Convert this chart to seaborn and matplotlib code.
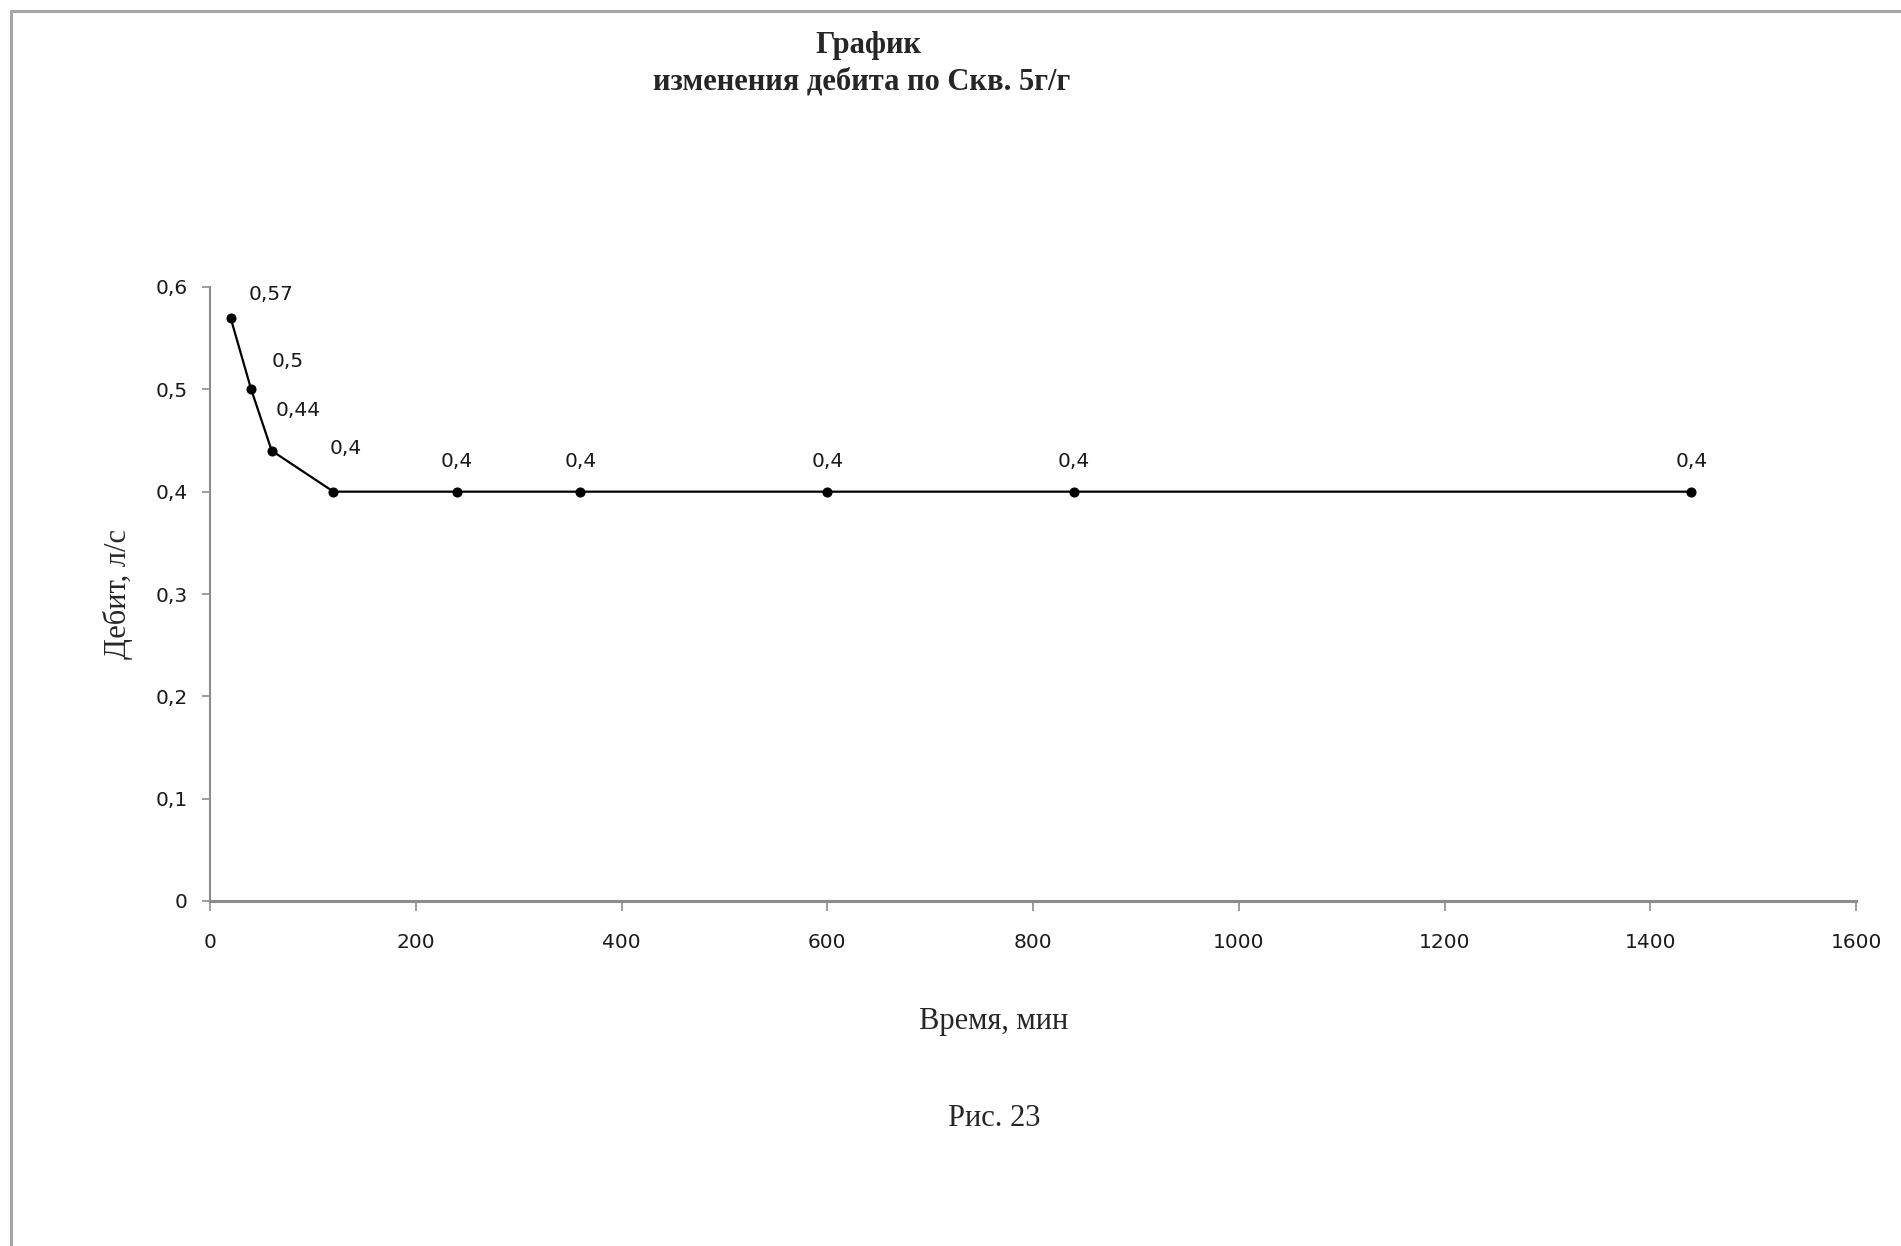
import matplotlib
matplotlib.use("Agg")
import matplotlib.pyplot as plt
import seaborn as sns
import pandas as pd
from matplotlib.lines import Line2D

# ---- data ----
time_min = [20, 40, 60, 120, 240, 360, 600, 840, 1440]
debit = [0.57, 0.5, 0.44, 0.4, 0.4, 0.4, 0.4, 0.4, 0.4]
x_ticks = [0, 200, 400, 600, 800, 1000, 1200, 1400, 1600]
y_ticks = [0, 0.1, 0.2, 0.3, 0.4, 0.5, 0.6]
title_lines = ["График", "изменения дебита по Скв. 5г/г"]
x_label = "Время, мин"
y_label = "Дебит, л/с"
caption = "Рис. 23"

# label offsets (points) for the data labels
label_offsets = [(29, 17), (26, 20), (19, 29), (9, 31), (0, 22), (0, 22), (0, 22), (0, 22), (0, 22)]

sns.set_style("white")
plt.rcParams['font.family'] = ['DejaVu Sans']

W, H = 1901, 1246
fig = plt.figure(figsize=(W / 100, H / 100), dpi=100)
ax = fig.add_axes([210 / W, 1 - 901 / H, (1856 - 210) / W, (901 - 287) / H])

df = pd.DataFrame({"t": time_min, "q": debit})
sns.lineplot(data=df, x="t", y="q", ax=ax, color="black", linewidth=1.6,
             marker="o", markersize=6.5, markeredgecolor="black", markerfacecolor="black")

ax.set_xlim(0, 1600)
ax.set_ylim(0, 0.6)
ax.set_xticks(x_ticks)
ax.set_yticks(y_ticks)
ax.set_xticklabels([str(v) for v in x_ticks])
ax.set_yticklabels([("%g" % v).replace(".", ",") for v in y_ticks])

spine_col = "#8c8c8c"
for s in ["top", "right"]:
    ax.spines[s].set_visible(False)
for s in ["left", "bottom"]:
    ax.spines[s].set_color(spine_col)
    ax.spines[s].set_linewidth(1.5)
ax.spines["bottom"].set_linewidth(2.2)

ax.tick_params(axis="x", direction="out", length=7, width=1.2, color=spine_col,
               pad=16, labelsize=14.5, labelcolor="#1a1a1a", bottom=True)
ax.tick_params(axis="y", direction="out", length=6, width=1.2, color=spine_col,
               pad=10, labelsize=14.5, labelcolor="#1a1a1a", left=True)
ax.set_xlabel("")
ax.set_ylabel("")

for xv, yv, off in zip(time_min, debit, label_offsets):
    ax.annotate(("%g" % yv).replace(".", ","), (xv, yv), xytext=off,
                textcoords="offset points", ha="center", va="center",
                fontsize=14.5, color="#1a1a1a")

serif = ["Liberation Serif", "DejaVu Serif"]
fig.text(868 / W, 1 - 45 / H, title_lines[0], ha="center", va="center",
         fontsize=22, fontweight="bold", family=serif)
fig.text(862 / W, 1 - 82 / H, title_lines[1], ha="center", va="center",
         fontsize=22, fontweight="bold", family=serif)
fig.text(994 / W, 1 - 1021 / H, x_label, ha="center", va="center",
         fontsize=22, family=serif)
fig.text(118 / W, 1 - 594 / H, y_label, ha="center", va="center",
         fontsize=22, family=serif, rotation=90)
fig.text(994 / W, 1 - 1119 / H, caption, ha="center", va="center",
         fontsize=22, family=serif)

# outer frame (top and left edges visible)
fig.add_artist(Line2D([11 / W, 1.0], [1 - 11 / H, 1 - 11 / H], transform=fig.transFigure,
                      color="#a6a6a6", linewidth=2.2))
fig.add_artist(Line2D([11 / W, 11 / W], [0.0, 1 - 11 / H], transform=fig.transFigure,
                      color="#a6a6a6", linewidth=2.2))

fig.savefig("out.png", dpi=100, facecolor="white")
